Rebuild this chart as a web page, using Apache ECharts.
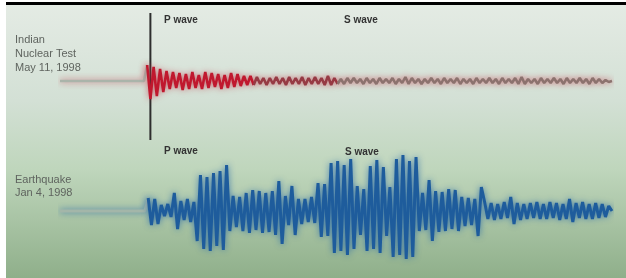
<!DOCTYPE html>
<html>
<head>
<meta charset="utf-8">
<script src="https://cdn.jsdelivr.net/npm/echarts@6/dist/echarts.min.js"></script>
<style>
  html, body { margin: 0; padding: 0; background: #fff; }
  #mains { width: 626px; height: 278px; }
</style>
</head>
<body>
<div id="mains"></div>
<script>
// nuclear test trace (red), one sample per step
var testWave = [
  0,0,0,0,0,0,0,0,0,0,0,0,0,0,0,0,0,0,0,0,0,0,0,0,0,0,0,
  16,-18,14,-15,12,-11,10,
  -8,9,-7,8,-9,7,-8,9,-7,6,-8,9,-7,8,-6,7,-8,6,-7,8,-6,7,
  -5,5,-4,5,-4,
  4,-3,3,-4,3,-3,4,-3,3,-4,4,-3,3,-3,4,-4,3,-3,4,-3,3,-4,
  5,-4,3,-3,2,-3,3,-2,3,-2,2,-3,3,-2,2,-3,3,-2,2,-2,3,-3,2,-2,4,-3,3,-2,2,-3,
  2,-2,3,-2,2,-3,3,-2,2,-2,3,-3,2,-2,2,-3,3,-2,2,-2,3,-2,2,-3,3,-2,2,-2,3,-3,
  4,-3,2,-2,2,-3,3,-2,2,-2,3,-2,2,-3,3,-2,2,-2,3,-2,2,-3,3,-2,2,-2,1,-1,0
];

// earthquake trace (blue)
var quakeWave = [
  0,0,0,0,0,0,0,0,0,0,0,0,0,0,0,0,0,0,0,0,0,0,0,0,0,0,0,
  13,-14,12,-13,
  6,-5,7,-6,
  18,-18,
  10,-9,12,-11,9,
  -30,36,-38,34,-40,38,-35,40,-39,46,
  -20,15,-16,14,
  -20,18,-22,21,-19,20,-22,18,-21,20,
  -24,30,-33,15,
  -14,25,-24,12,-13,
  12,-11,14,-12,
  28,-26,27,-25,
  48,-42,50,-40,46,-44,52,-38,
  25,-24,22,
  -40,45,-38,51,-42,44,
  -25,24,
  -46,52,-44,56,-48,50,-46,54,
  -20,18,-19,
  31,-30,
  20,-21,19,-20,22,-18,21,-20,
  14,-15,13,-14,12,
  -25,24,
  9,-8,8,-9,7,-8,9,-7,14,-13,8,-9,7,-8,8,-7,9,-8,7,-8,
  9,-7,8,-9,7,-8,12,-11,8,-7,9,-8,7,-8,8,-7,7,-6,5,0
];

// arrival marker: sample index and vertical extent
var onsetLine = [[28, 68], [28, -59]];

// colour bands along each trace: [first sample, last sample, colour]
var testBands = [[0, 27, '#aab4aa'], [27, 60, '#c0182e'], [60, 86, '#963a44'], [86, 999, '#8c726e']];
var quakeBands = [[0, 27, '#a3b6a9'], [27, 999, '#1e5c9c']];

var testLabels = ['Indian', 'Nuclear Test', 'May 11, 1998'];
var quakeLabels = ['Earthquake', 'Jan 4, 1998'];
var waveLabels = ['P wave', 'S wave'];

function bandSeries(wave, bands, axis, width, glow) {
  return bands.map(function (b) {
    var pts = [];
    for (var i = b[0]; i <= Math.min(b[1], wave.length - 1); i++) pts.push([i, wave[i]]);
    return {
      type: 'line', xAxisIndex: axis, yAxisIndex: axis, z: 3,
      data: pts, showSymbol: false, silent: true,
      lineStyle: { color: b[2], width: width, shadowBlur: 6, shadowColor: glow }
    };
  });
}

var chart = echarts.init(document.getElementById('mains'));

var labelStyle = { fill: '#5f645f', font: '11px "Liberation Sans", Arial, sans-serif' };
var waveStyle = { fill: '#333', font: 'bold 10px "Liberation Sans", Arial, sans-serif' };

var graphics = [
  {
    type: 'rect', z: -10, silent: true,
    shape: { x: 6, y: 5, width: 620, height: 273 },
    style: {
      fill: new echarts.graphic.LinearGradient(0, 0, 0, 1, [
        { offset: 0, color: '#e4ebe4' },
        { offset: 0.35, color: '#d3e0d5' },
        { offset: 0.6, color: '#bfd6bc' },
        { offset: 1, color: '#8faf8a' }
      ])
    }
  },
  { type: 'rect', z: -9, shape: { x: 6, y: 2, width: 620, height: 3 }, style: { fill: '#000' } }
];
testLabels.forEach(function (t, i) {
  graphics.push({ type: 'text', left: 15, top: 34 + i * 14, style: Object.assign({ text: t }, labelStyle) });
});
quakeLabels.forEach(function (t, i) {
  graphics.push({ type: 'text', left: 15, top: 174 + i * 13, style: Object.assign({ text: t }, labelStyle) });
});
graphics.push({ type: 'text', left: 164, top: 15, style: Object.assign({ text: waveLabels[0] }, waveStyle) });
graphics.push({ type: 'text', left: 344, top: 15, style: Object.assign({ text: waveLabels[1] }, waveStyle) });
graphics.push({ type: 'text', left: 164, top: 146, style: Object.assign({ text: waveLabels[0] }, waveStyle) });
graphics.push({ type: 'text', left: 345, top: 147, style: Object.assign({ text: waveLabels[1] }, waveStyle) });

var series = []
  .concat(bandSeries(testWave, testBands, 0, 2.6, 'rgba(190,30,50,0.6)'))
  .concat(bandSeries(quakeWave, quakeBands, 1, 3, 'rgba(20,90,170,0.7)'));
series.push({
  type: 'line', xAxisIndex: 0, yAxisIndex: 0, z: 2,
  data: onsetLine, showSymbol: false, silent: true,
  lineStyle: { color: '#2e2e2e', width: 2 }
});

chart.setOption({
  animation: false,
  graphic: graphics,
  grid: [
    { left: 60, right: 14, top: 13, height: 136 },
    { left: 60, right: 14, top: 151, height: 120 }
  ],
  xAxis: [
    { gridIndex: 0, type: 'value', min: 0, max: testWave.length - 1, show: false },
    { gridIndex: 1, type: 'value', min: 0, max: quakeWave.length - 1, show: false }
  ],
  yAxis: [
    { gridIndex: 0, type: 'value', min: -68, max: 68, show: false },
    { gridIndex: 1, type: 'value', min: -60, max: 60, show: false }
  ],
  series: series
});
</script>
</body>
</html>
